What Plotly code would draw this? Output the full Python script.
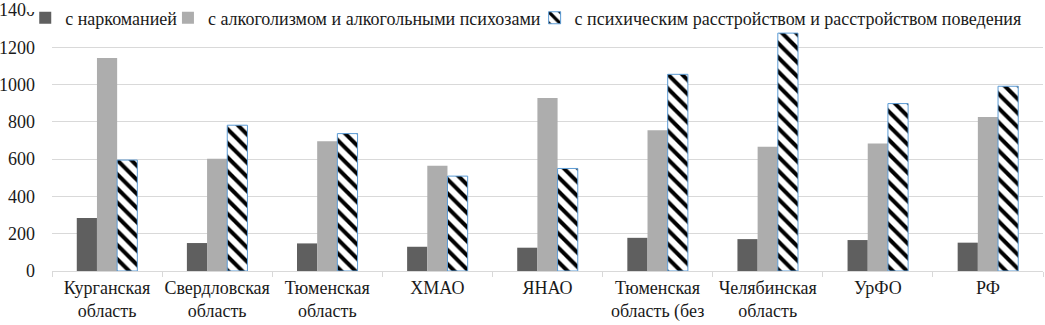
import plotly.graph_objects as go

categories = [
    "Курганская<br>область", "Свердловская<br>область", "Тюменская<br>область",
    "ХМАО", "ЯНАО", "Тюменская<br>область (без", "Челябинская<br>область",
    "УрФО", "РФ",
]
series_names = [
    "с наркоманией",
    "с алкоголизмом и алкогольными психозами",
    "с психическим расстройством и расстройством поведения",
]
narco = [284, 150, 148, 130, 125, 178, 171, 166, 152]
alco = [1143, 602, 696, 564, 928, 755, 666, 684, 826]
psych = [595, 782, 737, 509, 550, 1055, 1276, 898, 991]

FONT = "serif"
FS = 18

fig = go.Figure()
fig.add_trace(go.Bar(name=series_names[0], x=categories, y=narco, legend="legend",
                     marker=dict(color="#5f5f5f", line=dict(width=0))))
fig.add_trace(go.Bar(name=series_names[1], x=categories, y=alco, legend="legend2",
                     marker=dict(color="#adadad", line=dict(width=0))))
fig.add_trace(go.Bar(name=series_names[2], x=categories, y=psych, legend="legend3",
                     marker=dict(color="white",
                                 line=dict(color="#5b9bd5", width=1),
                                 pattern=dict(shape="\\", fgcolor="black",
                                              bgcolor="white", size=10,
                                              solidity=0.4, fillmode="replace"))))

leg_common = dict(orientation="h", xanchor="left", y=1.04, yanchor="top",
                  bgcolor="rgba(0,0,0,0)", font=dict(family=FONT, size=FS, color="#1a1a1a"),
                  itemwidth=30)
fig.update_layout(
    width=1045, height=325,
    margin=dict(l=52, r=2, t=10, b=54, autoexpand=False),
    paper_bgcolor="white", plot_bgcolor="white",
    barmode="group", bargap=0.45, bargroupgap=0,
    font=dict(family=FONT, size=FS, color="#1a1a1a"),
    legend=dict(x=-0.027, **leg_common),
    legend2=dict(x=0.117, **leg_common),
    legend3=dict(x=0.487, **leg_common),
    showlegend=True,
)
fig.add_shape(type="rect", xref="paper", yref="paper", x0=-0.026, x1=0.99,
              y0=0.992, y1=1.05, fillcolor="white", line=dict(width=0), layer="above")

fig.update_yaxes(range=[0, 1400], dtick=200, showgrid=True, gridcolor="#d9d9d9",
                 gridwidth=1, zeroline=False, showline=False, ticks="",
                 ticklabelstandoff=16, tickfont=dict(family=FONT, size=FS),
                 automargin=False)
fig.update_xaxes(showline=True, linecolor="#d9d9d9", linewidth=1, ticks="outside",
                 tickson="boundaries", ticklen=5, tickcolor="#d9d9d9", tickangle=0,
                 tickfont=dict(family=FONT, size=FS), showgrid=False,
                 automargin=False)

fig.write_html("out.html", config={"displayModeBar": False},
               post_script="document.body.style.margin='0';")
